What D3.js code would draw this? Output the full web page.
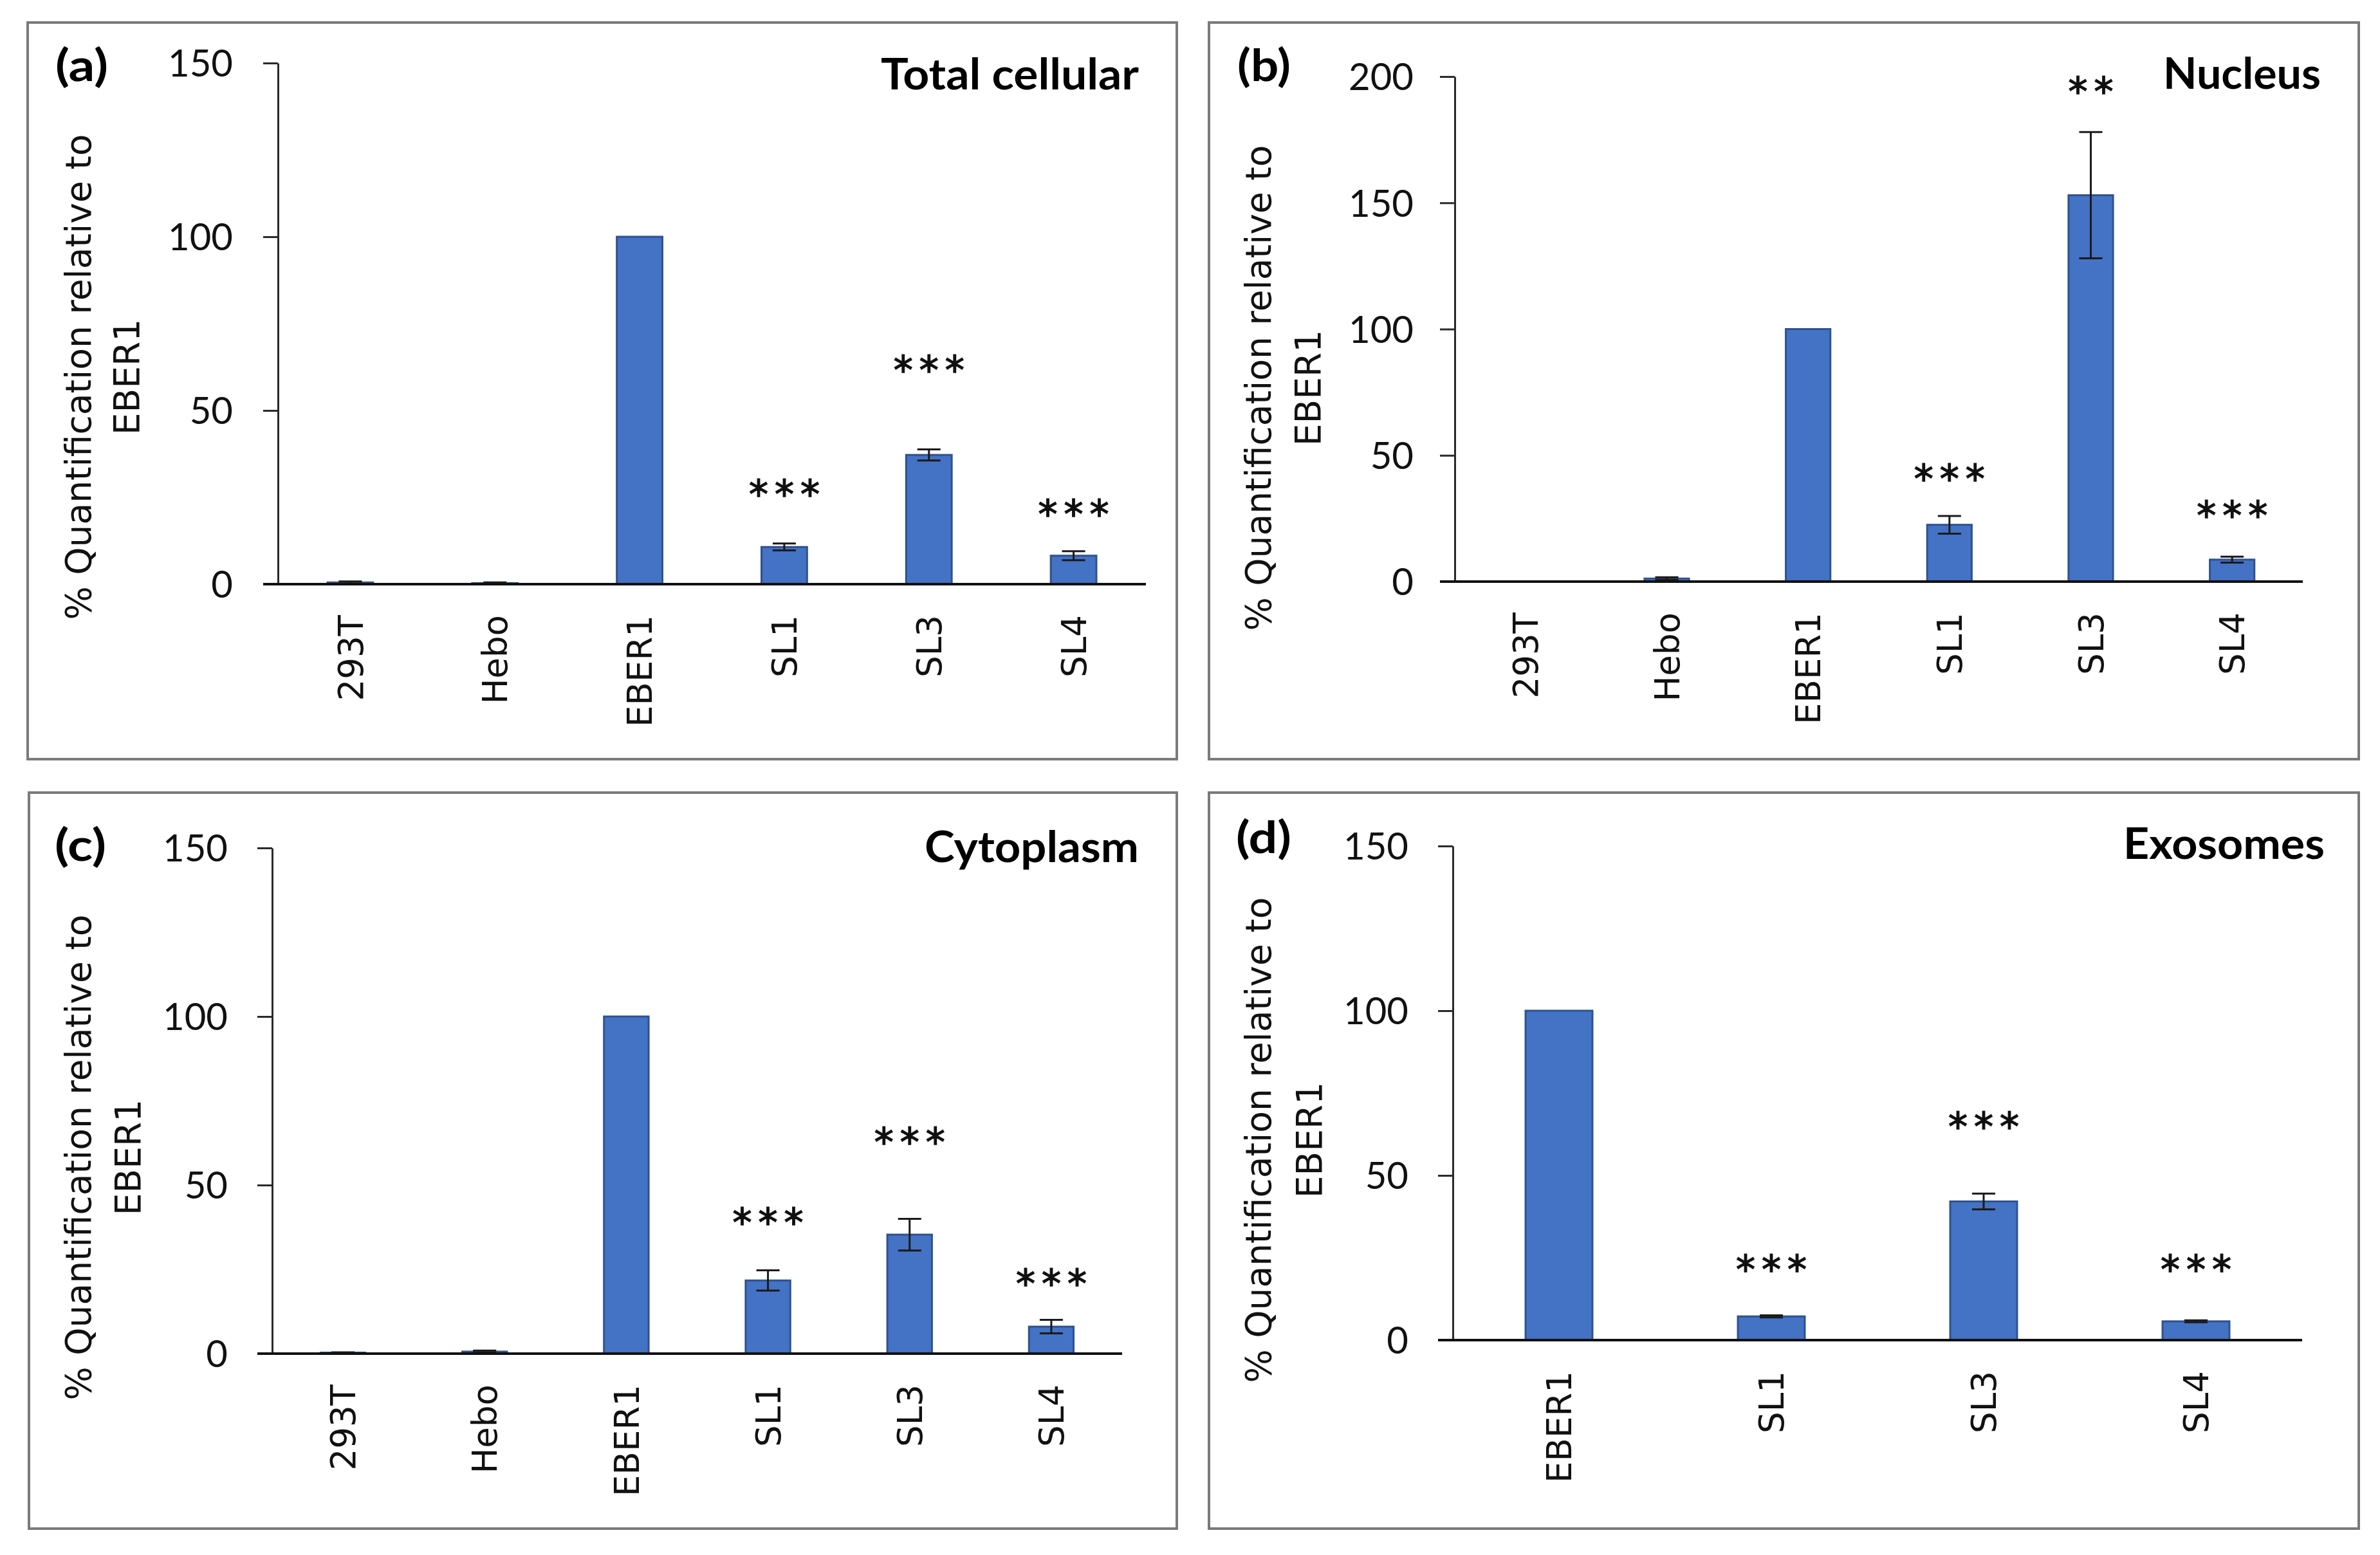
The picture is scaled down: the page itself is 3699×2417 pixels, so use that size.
<!DOCTYPE html>
<html>
<head>
<meta charset="utf-8">
<script src="https://cdn.jsdelivr.net/npm/d3@7/dist/d3.min.js"></script>
<style>
  html, body { margin: 0; padding: 0; background: #ffffff; }
  svg { display: block; }
</style>
</head>
<body>
<script>
// ---------------- DATA ----------------
const categoriesAll = ["293T", "Hebo", "EBER1", "SL1", "SL3", "SL4"];
const categoriesExo = ["EBER1", "SL1", "SL3", "SL4"];

const totalValues = [0.5, 0.3, 100, 10.7, 37.2, 8.2];
const totalErrors = [0.3, 0.2, 0, 1.0, 1.6, 1.3];
const totalStars  = ["", "", "", "***", "***", "***"];
const totalStarAt = [0, 0, 0, 28.3, 64.1, 22.6];

const nucleusValues = [0.1, 1.2, 100, 22.5, 153, 8.7];
const nucleusErrors = [0, 0.5, 0, 3.5, 25, 1.2];
const nucleusStars  = ["", "", "", "***", "**", "***"];
const nucleusStarAt = [0, 0, 0, 44.1, 197.4, 29.6];

const cytoValues = [0.3, 0.6, 100, 21.7, 35.3, 8.0];
const cytoErrors = [0.1, 0.3, 0, 3.0, 4.7, 2.0];
const cytoStars  = ["", "", "", "***", "***", "***"];
const cytoStarAt = [0, 0, 0, 41.4, 65.3, 23.3];

const exoValues = [100, 7.2, 42.1, 5.7];
const exoErrors = [0, 0.3, 2.4, 0.3];
const exoStars  = ["", "***", "***", "***"];
const exoStarAt = [0, 24, 67.4, 24];

const ticks150 = [0, 50, 100, 150];
const ticks200 = [0, 50, 100, 150, 200];

const yTitleLine1 = "% Quantification relative to";
const yTitleLine2 = "EBER1";

// ---------------- LAYOUT ----------------
const W = 3699, H = 2417;
const panels = [
  { cats: categoriesAll, vals: totalValues, errs: totalErrors, stars: totalStars, starAt: totalStarAt,
    title: "Total cellular", label: "(a)", ticks: ticks150, yMax: 150,
    frame: [43, 35, 1829, 1180], axisX: 432, xEnd: 1781, y0: 908, yTop: 98, tickGap: 70,
    titleRight: 1770, titleBase: 139, titleLen: 401, labelLeft: 86, labelBase: 126, labelLen: 82,
    ytCenter: 586, yt1x: 121, yt2x: 196 },
  { cats: categoriesAll, vals: nucleusValues, errs: nucleusErrors, stars: nucleusStars, starAt: nucleusStarAt,
    title: "Nucleus", label: "(b)", ticks: ticks200, yMax: 200,
    frame: [1879, 35, 3666, 1180], axisX: 2261, xEnd: 3579, y0: 904, yTop: 119, tickGap: 64,
    titleRight: 3607, titleBase: 138, titleLen: 245, labelLeft: 1923, labelBase: 126, labelLen: 83,
    ytCenter: 603, yt1x: 1955, yt2x: 2032 },
  { cats: categoriesAll, vals: cytoValues, errs: cytoErrors, stars: cytoStars, starAt: cytoStarAt,
    title: "Cytoplasm", label: "(c)", ticks: ticks150, yMax: 150,
    frame: [45, 1232, 1829, 2376], axisX: 423, xEnd: 1744, y0: 2104, yTop: 1318, tickGap: 69,
    titleRight: 1770, titleBase: 1340, titleLen: 333, labelLeft: 85, labelBase: 1338, labelLen: 80,
    ytCenter: 1799, yt1x: 121, yt2x: 198 },
  { cats: categoriesExo, vals: exoValues, errs: exoErrors, stars: exoStars, starAt: exoStarAt,
    title: "Exosomes", label: "(d)", ticks: ticks150, yMax: 150,
    frame: [1879, 1232, 3666, 2376], axisX: 2258, xEnd: 3578, y0: 2083, yTop: 1315, tickGap: 69,
    titleRight: 3613, titleBase: 1335, titleLen: 313, labelLeft: 1921, labelBase: 1326, labelLen: 86,
    ytCenter: 1772, yt1x: 1955, yt2x: 2034 }
];

const barFill = "#4472C4", barStroke = "#2F528F";
const tickFont = "Lato, 'Open Sans', sans-serif";
const catFont = "'DejaVu Sans', Verdana, sans-serif";
const tickLen = 23;

const svg = d3.select("body").append("svg")
  .attr("width", W).attr("height", H)
  .attr("viewBox", `0 0 ${W} ${H}`);
svg.append("rect").attr("width", W).attr("height", H).attr("fill", "#fff");

panels.forEach(p => {
  const g = svg.append("g");
  const [fx0, fy0, fx1, fy1] = p.frame;

  // frame
  g.append("rect")
    .attr("x", fx0).attr("y", fy0)
    .attr("width", fx1 - fx0).attr("height", fy1 - fy0)
    .attr("fill", "none").attr("stroke", "#7a7a7a").attr("stroke-width", 4);

  const x = d3.scaleBand().domain(p.cats).range([p.axisX, p.xEnd]).paddingInner(0.685).paddingOuter(0.3425);
  const y = d3.scaleLinear().domain([0, p.yMax]).range([p.y0, p.yTop]);

  // y axis
  const yAxis = d3.axisLeft(y).tickValues(p.ticks).tickSize(tickLen).tickSizeOuter(0)
    .tickPadding(p.tickGap - tickLen).tickFormat(d3.format("d"));
  const ya = g.append("g").attr("transform", `translate(${p.axisX},0)`).call(yAxis);
  ya.select(".domain").attr("stroke", "#2a2a2a").attr("stroke-width", 3);
  ya.selectAll(".tick line").attr("stroke", "#2a2a2a").attr("stroke-width", 3);
  ya.selectAll(".tick text")
    .attr("font-family", tickFont).attr("font-size", 58).attr("fill", "#111")
    .attr("dy", "0.36em");

  // bars
  const data = p.cats.map((c, i) => ({ c, v: p.vals[i], e: p.errs[i], s: p.stars[i], sa: p.starAt[i] }));
  g.selectAll("rect.bar").data(data).enter().append("rect")
    .attr("class", "bar")
    .attr("x", d => x(d.c))
    .attr("width", x.bandwidth())
    .attr("y", d => y(d.v))
    .attr("height", d => y(0) - y(d.v))
    .attr("fill", barFill)
    .attr("stroke", barStroke).attr("stroke-width", 3);

  // error bars
  const capW = 36;
  const eb = g.selectAll("g.err").data(data.filter(d => d.e > 0)).enter().append("g").attr("class", "err");
  eb.append("line")
    .attr("x1", d => x(d.c) + x.bandwidth() / 2).attr("x2", d => x(d.c) + x.bandwidth() / 2)
    .attr("y1", d => y(d.v + d.e)).attr("y2", d => y(Math.max(0, d.v - d.e)))
    .attr("stroke", "#1a1a1a").attr("stroke-width", 3);
  [1, -1].forEach(sgn => {
    eb.append("line")
      .attr("x1", d => x(d.c) + x.bandwidth() / 2 - capW / 2)
      .attr("x2", d => x(d.c) + x.bandwidth() / 2 + capW / 2)
      .attr("y1", d => y(Math.max(0, d.v + sgn * d.e)))
      .attr("y2", d => y(Math.max(0, d.v + sgn * d.e)))
      .attr("stroke", "#1a1a1a").attr("stroke-width", 3);
  });

  // x axis line
  g.append("line")
    .attr("x1", p.axisX - tickLen).attr("x2", p.xEnd)
    .attr("y1", y(0)).attr("y2", y(0))
    .attr("stroke", "#111").attr("stroke-width", 4);

  // category labels
  g.selectAll("text.cat").data(p.cats).enter().append("text")
    .attr("class", "cat")
    .attr("transform", d => `translate(${x(d) + x.bandwidth() / 2},${y(0) + 48}) rotate(-90)`)
    .attr("text-anchor", "end").attr("dy", "0.36em")
    .attr("font-family", catFont).attr("font-size", 53).attr("fill", "#111")
    .text(d => d);

  // significance stars
  g.selectAll("text.star").data(data.filter(d => d.s)).enter().append("text")
    .attr("class", "star")
    .attr("x", d => x(d.c) + x.bandwidth() / 2 + 5)
    .attr("y", d => y(d.sa) + 34)
    .attr("text-anchor", "middle")
    .attr("font-family", catFont).attr("font-size", 60).attr("letter-spacing", 10)
    .attr("fill", "#111").attr("stroke", "#111").attr("stroke-width", 1.5)
    .text(d => d.s);

  // y title (two lines)
  g.append("text")
    .attr("transform", `translate(${p.yt1x},${p.ytCenter}) rotate(-90)`)
    .attr("text-anchor", "middle").attr("dy", "0.36em")
    .attr("font-family", catFont).attr("font-size", 55).attr("fill", "#111")
    .text(yTitleLine1);
  g.append("text")
    .attr("transform", `translate(${p.yt2x},${p.ytCenter}) rotate(-90)`)
    .attr("text-anchor", "middle").attr("dy", "0.36em")
    .attr("font-family", catFont).attr("font-size", 55).attr("fill", "#111")
    .text(yTitleLine2);

  // panel title
  g.append("text")
    .attr("x", p.titleRight - p.titleLen).attr("y", p.titleBase)
    .attr("textLength", p.titleLen).attr("lengthAdjust", "spacingAndGlyphs")
    .attr("font-family", tickFont).attr("font-weight", 700).attr("font-size", 66).attr("fill", "#000")
    .text(p.title);

  // panel label
  g.append("text")
    .attr("x", p.labelLeft).attr("y", p.labelBase)
    .attr("textLength", p.labelLen).attr("lengthAdjust", "spacingAndGlyphs")
    .attr("font-family", tickFont).attr("font-weight", 700).attr("font-size", 68).attr("fill", "#000")
    .text(p.label);
});
</script>
</body>
</html>
